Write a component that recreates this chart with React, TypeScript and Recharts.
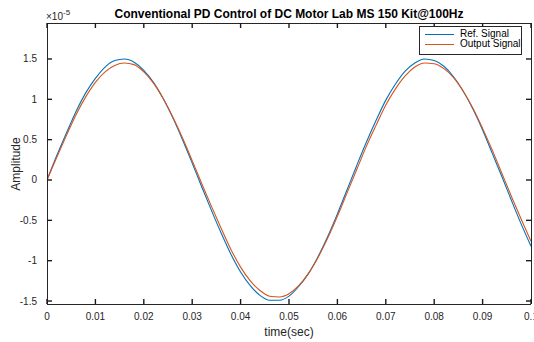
import React from "react";
import { Label, Legend, Line, LineChart, XAxis, YAxis } from "recharts";

// values in units of 1e-5 (the axis shows the "x10^-5" multiplier)
const time = [
  0, 0.002, 0.004, 0.006, 0.008, 0.01, 0.012, 0.014, 0.016, 0.018,
  0.02, 0.022, 0.024, 0.026, 0.028, 0.03, 0.032, 0.034, 0.036, 0.038,
  0.04, 0.042, 0.044, 0.046, 0.048, 0.05, 0.052, 0.054, 0.056, 0.058,
  0.06, 0.062, 0.064, 0.066, 0.068, 0.07, 0.072, 0.074, 0.076, 0.078,
  0.08, 0.082, 0.084, 0.086, 0.088, 0.09, 0.092, 0.094, 0.096, 0.098, 0.1
];
const refSignal = [
  0, 0.3, 0.58, 0.85, 1.08, 1.26, 1.4, 1.48, 1.5, 1.46,
  1.36, 1.21, 1.01, 0.77, 0.5, 0.21, -0.09, -0.38, -0.66, -0.92,
  -1.14, -1.31, -1.43, -1.49, -1.49, -1.44, -1.32, -1.16, -0.95, -0.7,
  -0.42, -0.12, 0.18, 0.47, 0.74, 0.99, 1.19, 1.35, 1.45, 1.5,
  1.48, 1.41, 1.28, 1.1, 0.88, 0.62, 0.33, 0.04, -0.26, -0.55, -0.82
];
const outputSignal = [
  0, 0.28, 0.55, 0.81, 1.03, 1.21, 1.34, 1.42, 1.45, 1.43,
  1.34, 1.2, 1.01, 0.78, 0.52, 0.24, -0.05, -0.33, -0.6, -0.86,
  -1.08, -1.25, -1.37, -1.44, -1.45, -1.41, -1.31, -1.16, -0.96, -0.72,
  -0.45, -0.16, 0.13, 0.42, 0.68, 0.93, 1.13, 1.29, 1.4, 1.45,
  1.44, 1.38, 1.27, 1.1, 0.89, 0.64, 0.37, 0.08, -0.21, -0.49, -0.76
];
const seriesNames = ["Ref. Signal", "Output Signal"];
const xTicks = [0, 0.01, 0.02, 0.03, 0.04, 0.05, 0.06, 0.07, 0.08, 0.09, 0.1];
const xTickLabels = ["0", "0.01", "0.02", "0.03", "0.04", "0.05", "0.06", "0.07", "0.08", "0.09", "0.1"];
const yTicks = [-1.5, -1, -0.5, 0, 0.5, 1, 1.5];
const yTickLabels = ["-1.5", "-1", "-0.5", "0", "0.5", "1", "1.5"];

const title = "Conventional PD Control of DC Motor Lab MS 150 Kit@100Hz";
const font = "'Liberation Sans', Arial, Helvetica, sans-serif";
const ink = "#262626";
const yDomain = [-1.537, 1.946];
const tickLen = 5;

const data = time.map((t, i) => ({ t, ref: refSignal[i], out: outputSignal[i] }));

// MATLAB style ticks point into the plot box
const tickMark = (d: string) => <path d={d} stroke="#1a1a1a" strokeWidth={1.4} fill="none" />;

const BottomTick = (props: any) => {
  const { x, y, payload } = props;
  return (
    <g>
      {tickMark(`M${x},${y}V${y - tickLen}`)}
      <text x={x} y={y + 16} textAnchor="middle" fontSize={10} fill={ink} fontFamily={font}>
        {xTickLabels[xTicks.indexOf(payload.value)]}
      </text>
    </g>
  );
};
const TopTick = (props: any) => {
  const { x, y } = props;
  return <g>{tickMark(`M${x},${y}V${y + tickLen}`)}</g>;
};
const LeftTick = (props: any) => {
  const { x, y, payload } = props;
  return (
    <g>
      {tickMark(`M${x},${y}H${x + tickLen}`)}
      <text x={x - 10} y={y + 3.5} textAnchor="end" fontSize={10} fill={ink} fontFamily={font}>
        {yTickLabels[yTicks.indexOf(payload.value)]}
      </text>
    </g>
  );
};
const RightTick = (props: any) => {
  const { x, y } = props;
  return <g>{tickMark(`M${x},${y}H${x - tickLen}`)}</g>;
};

const axisLine = { stroke: ink, shapeRendering: "crispEdges" };

function MatlabLegend({ payload }: any) {
  const items = [...(payload || [])].sort(
    (a: any, b: any) => seriesNames.indexOf(a.value) - seriesNames.indexOf(b.value)
  );
  return (
    <div
      style={{
        border: `1px solid ${ink}`,
        background: "#fff",
        width: 103,
        height: 29,
        paddingTop: 2,
        paddingLeft: 5,
        boxSizing: "border-box",
        fontFamily: font
      }}
    >
      {items.map((entry: any) => (
        <div key={entry.value} style={{ display: "flex", alignItems: "center", height: 10, whiteSpace: "nowrap" }}>
          <svg width={29} height={10} style={{ display: "block", flex: "none" }}>
            <line x1={0} x2={29} y1={5.5} y2={5.5} stroke={entry.color} strokeWidth={1} />
          </svg>
          <span style={{ marginLeft: 6, fontSize: 10, color: "#000", lineHeight: "10px" }}>{entry.value}</span>
        </div>
      ))}
    </div>
  );
}

export default function App() {
  return (
    <div style={{ position: "absolute", left: 0, top: 0, width: 534, height: 342, background: "#fff" }}>
      <LineChart width={534} height={342} data={data} margin={{ top: 22, right: 2, bottom: 0, left: 0 }}>
        <XAxis
          dataKey="t"
          type="number"
          domain={[0, 0.1]}
          ticks={xTicks}
          interval={0}
          height={38}
          tickSize={0}
          tickMargin={0}
          tickLine={false}
          axisLine={axisLine}
          tick={BottomTick}
          allowDataOverflow
        >
          <Label
            content={() => (
              <text x={289} y={336} textAnchor="middle" fontSize={12} fill={ink} fontFamily={font}>
                time(sec)
              </text>
            )}
          />
        </XAxis>
        <XAxis
          xAxisId="top"
          orientation="top"
          dataKey="t"
          type="number"
          domain={[0, 0.1]}
          ticks={xTicks}
          interval={0}
          height={1}
          tickSize={0}
          tickMargin={0}
          tickLine={false}
          axisLine={axisLine}
          tick={TopTick}
          allowDataOverflow
        >
          <Label
            content={() => (
              <text x={289} y={18} textAnchor="middle" fontSize={12} fontWeight="bold" fill="#000" fontFamily={font}>
                {title}
              </text>
            )}
          />
        </XAxis>
        <YAxis
          type="number"
          domain={yDomain}
          ticks={yTicks}
          interval={0}
          width={47}
          tickSize={0}
          tickMargin={0}
          tickLine={false}
          axisLine={axisLine}
          tick={LeftTick}
          allowDataOverflow
        >
          <Label
            content={() => (
              <text x={20} y={164} transform="rotate(-90 20 164)" textAnchor="middle" fontSize={12} fill={ink} fontFamily={font}>
                Amplitude
              </text>
            )}
          />
          <Label
            content={() => (
              <text x={46} y={20} fontSize={10} fill={ink} fontFamily={font}>
                ×10
                <tspan dy={-5} fontSize={8}>
                  -5
                </tspan>
              </text>
            )}
          />
        </YAxis>
        <YAxis
          yAxisId="right"
          orientation="right"
          type="number"
          domain={yDomain}
          ticks={yTicks}
          interval={0}
          width={1}
          tickSize={0}
          tickMargin={0}
          tickLine={false}
          axisLine={axisLine}
          tick={RightTick}
          allowDataOverflow
        />
        <Legend
          layout="vertical"
          align="center"
          verticalAlign="middle"
          wrapperStyle={{ left: 419, top: 26, width: 103, height: 29 }}
          content={MatlabLegend}
        />
        <Line dataKey="ref" name="Ref. Signal" stroke="#0072BD" strokeWidth={1.1} dot={false} type="monotone" isAnimationActive={false} />
        <Line dataKey="out" name="Output Signal" stroke="#D95319" strokeWidth={1.1} dot={false} type="monotone" isAnimationActive={false} />
      </LineChart>
    </div>
  );
}
